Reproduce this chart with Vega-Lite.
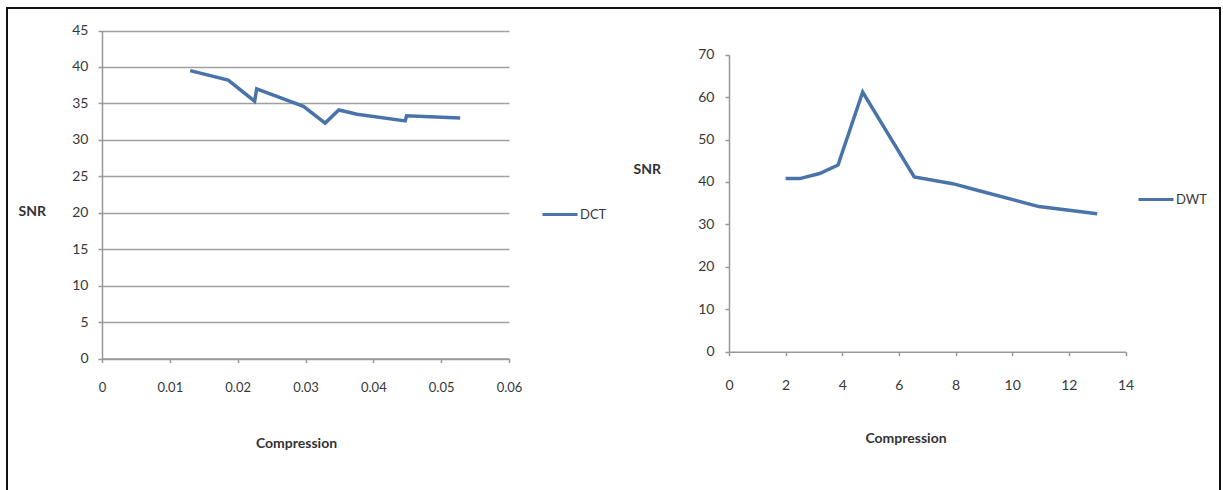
{
  "$schema": "https://vega.github.io/schema/vega-lite/v6.json",
  "autosize": "none",
  "width": 1213,
  "height": 485,
  "padding": {"left": 7, "top": 8, "right": 3, "bottom": 0},
  "background": "white",
  "config": {
    "view": {"stroke": "#111111", "strokeWidth": 2},
    "font": "Lato",
    "axis": {
      "labelFont": "Lato",
      "labelFontSize": 14,
      "labelColor": "#383838",
      "labelFlush": false,
      "titleFont": "Lato",
      "titleFontSize": 14,
      "titleFontWeight": "bold",
      "titleColor": "#333333",
      "titleAngle": 0,
      "titleBaseline": "middle",
      "domainColor": "#999999",
      "domainWidth": 1.5,
      "tickColor": "#999999",
      "tickWidth": 1.5,
      "tickSize": 4,
      "gridColor": "#a0a0a0",
      "gridWidth": 1.6
    },
    "legend": {
      "labelFont": "Lato",
      "labelFontSize": 13,
      "labelColor": "#383838",
      "symbolType": "stroke",
      "symbolSize": 1225,
      "symbolStrokeWidth": 3,
      "labelOffset": 1,
      "padding": 0
    }
  },
  "layer": [
    {
      "data": {
        "values": [
          {"compression": 0.013, "snr": 39.5, "series": "DCT"},
          {"compression": 0.0186, "snr": 38.2, "series": "DCT"},
          {"compression": 0.0225, "snr": 35.3, "series": "DCT"},
          {"compression": 0.0228, "snr": 37.0, "series": "DCT"},
          {"compression": 0.0297, "snr": 34.6, "series": "DCT"},
          {"compression": 0.0329, "snr": 32.3, "series": "DCT"},
          {"compression": 0.0349, "snr": 34.1, "series": "DCT"},
          {"compression": 0.0376, "snr": 33.5, "series": "DCT"},
          {"compression": 0.0447, "snr": 32.6, "series": "DCT"},
          {"compression": 0.0449, "snr": 33.3, "series": "DCT"},
          {"compression": 0.0528, "snr": 33.0, "series": "DCT"}
        ]
      },
      "mark": {"type": "line", "strokeWidth": 3.5, "strokeJoin": "miter"},
      "encoding": {
        "x": {
          "field": "compression",
          "type": "quantitative",
          "scale": {"domain": [0, 0.06], "range": [95, 502], "nice": false, "zero": false},
          "axis": {
            "orient": "bottom",
            "offset": -134.5,
            "values": [0, 0.01, 0.02, 0.03, 0.04, 0.05, 0.06],
            "format": ".2~f",
            "grid": false,
            "labelFontSize": 13,
            "labelBaseline": "middle",
            "labelPadding": 25,
            "title": "Compression",
            "titleX": 289,
            "titleY": 84.5,
            "titleAlign": "center"
          }
        },
        "y": {
          "field": "snr",
          "type": "quantitative",
          "scale": {"domain": [0, 45], "range": [350.5, 22.5], "nice": false, "zero": false},
          "axis": {
            "orient": "left",
            "offset": -95,
            "values": [0, 5, 10, 15, 20, 25, 30, 35, 40, 45],
            "labelPadding": 10,
            "title": "SNR",
            "titleX": -84,
            "titleY": 203,
            "titleAlign": "left"
          }
        },
        "color": {
          "field": "series",
          "type": "nominal",
          "scale": {"domain": ["DCT"], "range": ["#4a73a9"]},
          "legend": {"title": null, "orient": "none", "legendX": 534, "legendY": 187.5}
        }
      }
    },
    {
      "data": {
        "values": [
          {"compression": 2.0, "snr": 40.8, "series": "DWT"},
          {"compression": 2.5, "snr": 40.8, "series": "DWT"},
          {"compression": 3.2, "snr": 42.0, "series": "DWT"},
          {"compression": 3.85, "snr": 44.0, "series": "DWT"},
          {"compression": 4.72, "snr": 61.2, "series": "DWT"},
          {"compression": 6.54, "snr": 41.2, "series": "DWT"},
          {"compression": 7.9, "snr": 39.6, "series": "DWT"},
          {"compression": 8.8, "snr": 38.0, "series": "DWT"},
          {"compression": 10.94, "snr": 34.2, "series": "DWT"},
          {"compression": 13.0, "snr": 32.5, "series": "DWT"}
        ]
      },
      "mark": {"type": "line", "strokeWidth": 3.5},
      "encoding": {
        "x": {
          "field": "compression",
          "type": "quantitative",
          "scale": {"domain": [0, 14], "range": [722, 1118.5], "nice": false, "zero": false},
          "axis": {
            "orient": "bottom",
            "offset": -141.3,
            "values": [0, 2, 4, 6, 8, 10, 12, 14],
            "grid": false,
            "labelBaseline": "middle",
            "labelPadding": 30,
            "title": "Compression",
            "titleX": 898.5,
            "titleY": 86.3,
            "titleAlign": "center"
          }
        },
        "y": {
          "field": "snr",
          "type": "quantitative",
          "scale": {"domain": [0, 70], "range": [343.7, 46.7], "nice": false, "zero": false},
          "axis": {
            "orient": "left",
            "offset": -722,
            "values": [0, 10, 20, 30, 40, 50, 60, 70],
            "labelPadding": 11,
            "title": "SNR",
            "titleX": -96,
            "titleY": 161,
            "titleAlign": "left"
          }
        },
        "color": {
          "field": "series",
          "type": "nominal",
          "scale": {"domain": ["DWT"], "range": ["#4a73a9"]},
          "legend": {"title": null, "orient": "none", "legendX": 1130, "legendY": 172.5}
        }
      }
    }
  ],
  "resolve": {
    "scale": {"x": "independent", "y": "independent", "color": "independent"},
    "axis": {"x": "independent", "y": "independent"},
    "legend": {"color": "independent"}
  }
}
